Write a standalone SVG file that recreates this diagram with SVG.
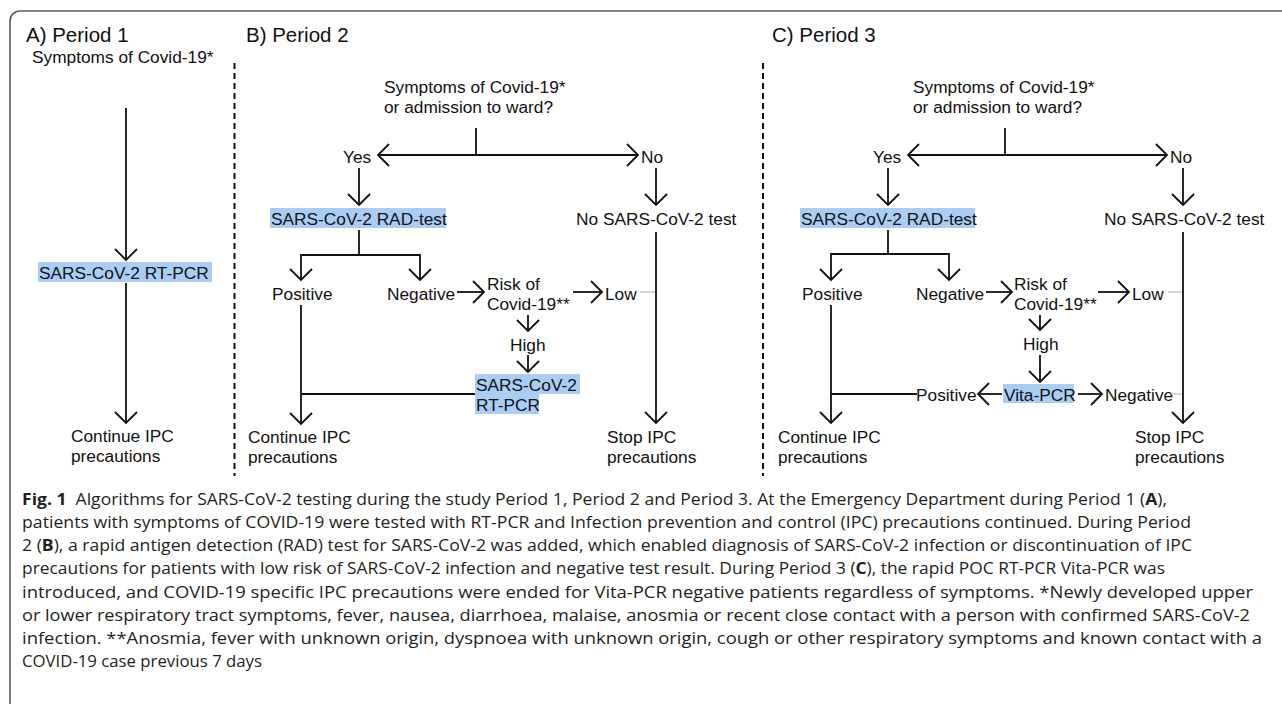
<svg xmlns="http://www.w3.org/2000/svg" width="1282" height="704" viewBox="0 0 1282 704">
<style>
.t{font-family:"Liberation Sans",Arial,sans-serif;font-size:17.3px;fill:#111}
.h{font-family:"Liberation Sans",Arial,sans-serif;font-size:20.5px;fill:#111}
.hl{fill:#a9cdf4}
.ln{fill:none;stroke:#111;stroke-width:1.8}
.ar{fill:none;stroke:#111;stroke-width:1.8;marker-end:url(#ah)}
.gr{fill:none;stroke:#c8c8c8;stroke-width:1.5}
.dash{fill:none;stroke:#111;stroke-width:2;stroke-dasharray:6 4}
.cap{font-family:"Open Sans","Noto Sans",sans-serif;font-size:16.5px;fill:#231f20}
.b{font-weight:bold}
</style>
<defs>
<marker id="ah" markerUnits="userSpaceOnUse" markerWidth="30" markerHeight="30" refX="0" refY="0" orient="auto" overflow="visible">
<path d="M-11,-11 L0,0 L-11,11" fill="none" stroke="#111" stroke-width="1.8"/>
</marker>
</defs>
<rect width="1282" height="704" fill="#fff"/>
<path d="M10,704 V21 A10,10 0 0 1 20,11 H1282" fill="none" stroke="#5a5a5a" stroke-width="1.6"/>
<g id="dividers">
<path class="dash" d="M234.5,63 V476"/>
<path class="dash" d="M763,63 V476"/>
</g>
<g id="headings">
<text class="h" x="26" y="42">A) Period 1</text>
<text class="h" x="246" y="42">B) Period 2</text>
<text class="h" x="772" y="42">C) Period 3</text>
</g>
<!-- Panel A -->
<g id="a-start"><text class="t" x="32" y="63">Symptoms of Covid-19*</text></g>
<g id="a-rtpcr"><rect class="hl" x="38" y="262" width="174" height="20"/><text class="t" x="39" y="279">SARS-CoV-2 RT-PCR</text></g>
<g id="a-continue"><text class="t" x="71" y="442">Continue IPC</text><text class="t" x="71" y="462">precautions</text></g>
<!-- Panel B -->
<g id="b-start"><text class="t" x="384" y="93">Symptoms of Covid-19*</text><text class="t" x="384" y="113">or admission to ward?</text></g>
<g id="b-yes"><text class="t" x="343" y="163">Yes</text></g>
<g id="b-no"><text class="t" x="641" y="163">No</text></g>
<g id="b-rad"><rect class="hl" x="270" y="208" width="176" height="20"/><text class="t" x="271" y="225">SARS-CoV-2 RAD-test</text></g>
<g id="b-notest"><text class="t" x="576" y="225">No SARS-CoV-2 test</text></g>
<g id="b-pos"><text class="t" x="272" y="300">Positive</text></g>
<g id="b-neg"><text class="t" x="387" y="300">Negative</text></g>
<g id="b-risk"><text class="t" x="487" y="290">Risk of</text><text class="t" x="487" y="310">Covid-19**</text></g>
<g id="b-low"><text class="t" x="605" y="300">Low</text></g>
<g id="b-high"><text class="t" x="510" y="351">High</text></g>
<g id="b-rtpcr"><rect class="hl" x="475" y="374" width="105" height="20"/><rect class="hl" x="475" y="393" width="64" height="21"/><text class="t" x="476" y="391">SARS-CoV-2</text><text class="t" x="476" y="411">RT-PCR</text></g>
<g id="b-continue"><text class="t" x="248" y="443">Continue IPC</text><text class="t" x="248" y="463">precautions</text></g>
<g id="b-stop"><text class="t" x="607" y="443">Stop IPC</text><text class="t" x="607" y="463">precautions</text></g>
<!-- Panel C -->
<g id="c-start"><text class="t" x="913" y="93">Symptoms of Covid-19*</text><text class="t" x="913" y="113">or admission to ward?</text></g>
<g id="c-yes"><text class="t" x="873" y="163">Yes</text></g>
<g id="c-no"><text class="t" x="1170" y="163">No</text></g>
<g id="c-rad"><rect class="hl" x="800" y="208" width="175" height="20"/><text class="t" x="801" y="225">SARS-CoV-2 RAD-test</text></g>
<g id="c-notest"><text class="t" x="1104" y="225">No SARS-CoV-2 test</text></g>
<g id="c-pos"><text class="t" x="802" y="300">Positive</text></g>
<g id="c-neg"><text class="t" x="916" y="300">Negative</text></g>
<g id="c-risk"><text class="t" x="1014" y="290">Risk of</text><text class="t" x="1014" y="310">Covid-19**</text></g>
<g id="c-low"><text class="t" x="1132" y="300">Low</text></g>
<g id="c-high"><text class="t" x="1023" y="350">High</text></g>
<g id="c-vita"><rect class="hl" x="1003" y="384" width="71" height="19"/><text class="t" x="1004" y="401">Vita-PCR</text></g>
<g id="c-vpos"><text class="t" x="916" y="401">Positive</text></g>
<g id="c-vneg"><text class="t" x="1105" y="401">Negative</text></g>
<g id="c-continue"><text class="t" x="778" y="443">Continue IPC</text><text class="t" x="778" y="463">precautions</text></g>
<g id="c-stop"><text class="t" x="1135" y="443">Stop IPC</text><text class="t" x="1135" y="463">precautions</text></g>
<g id="connectors">
<path class="ar" d="M126,108 V260"/>
<path class="ar" d="M126,283 V423"/>
<path class="ln" d="M476,128 V155"/>
<path class="ar" d="M476,155 H378"/>
<path class="ar" d="M476,155 H638"/>
<path class="ar" d="M359,168 V205"/>
<path class="ar" d="M656,168 V205"/>
<path class="ln" d="M359,230 V255"/>
<path class="ar" d="M359,255 H301 V280"/>
<path class="ar" d="M359,255 H420 V280"/>
<path class="ar" d="M457,292 H484"/>
<path class="ar" d="M573,292 H602"/>
<path class="gr" d="M640,292 H656"/>
<path class="ar" d="M528,315 V331"/>
<path class="ar" d="M528,355 V372"/>
<path class="ln" d="M475,394 H301"/>
<path class="ar" d="M301,305 V424"/>
<path class="ar" d="M656,232 V423"/>
<path class="ln" d="M1005,128 V155"/>
<path class="ar" d="M1005,155 H908"/>
<path class="ar" d="M1005,155 H1167"/>
<path class="ar" d="M888,168 V205"/>
<path class="ar" d="M1183,168 V205"/>
<path class="ln" d="M888,230 V254"/>
<path class="ar" d="M888,254 H831 V280"/>
<path class="ar" d="M888,254 H949 V280"/>
<path class="ar" d="M986,292 H1012"/>
<path class="ar" d="M1098,292 H1129"/>
<path class="gr" d="M1168,292 H1183"/>
<path class="ar" d="M1040,315 V330"/>
<path class="ar" d="M1040,355 V382"/>
<path class="ar" d="M1002,394 H978"/>
<path class="ln" d="M917,394 H831"/>
<path class="ar" d="M1078,394 H1102"/>
<path class="gr" d="M1171,394 H1183"/>
<path class="ar" d="M831,305 V423"/>
<path class="ar" d="M1183,232 V423"/>
</g>
<g id="caption">
<text class="cap" x="22" y="505" textLength="1145" lengthAdjust="spacingAndGlyphs" xml:space="preserve"><tspan class="b">Fig. 1</tspan>  Algorithms for SARS-CoV-2 testing during the study Period 1, Period 2 and Period 3. At the Emergency Department during Period 1 (<tspan class="b">A</tspan>),</text>
<text class="cap" x="22" y="528" textLength="1169" lengthAdjust="spacingAndGlyphs">patients with symptoms of COVID-19 were tested with RT-PCR and Infection prevention and control (IPC) precautions continued. During Period</text>
<text class="cap" x="22" y="551" textLength="1170" lengthAdjust="spacingAndGlyphs">2 (<tspan class="b">B</tspan>), a rapid antigen detection (RAD) test for SARS-CoV-2 was added, which enabled diagnosis of SARS-CoV-2 infection or discontinuation of IPC</text>
<text class="cap" x="22" y="574" textLength="1143" lengthAdjust="spacingAndGlyphs">precautions for patients with low risk of SARS-CoV-2 infection and negative test result. During Period 3 (<tspan class="b">C</tspan>), the rapid POC RT-PCR Vita-PCR was</text>
<text class="cap" x="22" y="598" textLength="1231" lengthAdjust="spacingAndGlyphs">introduced, and COVID-19 specific IPC precautions were ended for Vita-PCR negative patients regardless of symptoms. *Newly developed upper</text>
<text class="cap" x="22" y="621" textLength="1228" lengthAdjust="spacingAndGlyphs">or lower respiratory tract symptoms, fever, nausea, diarrhoea, malaise, anosmia or recent close contact with a person with confirmed SARS-CoV-2</text>
<text class="cap" x="22" y="644" textLength="1240" lengthAdjust="spacingAndGlyphs">infection. **Anosmia, fever with unknown origin, dyspnoea with unknown origin, cough or other respiratory symptoms and known contact with a</text>
<text class="cap" x="22" y="667" textLength="240" lengthAdjust="spacingAndGlyphs">COVID-19 case previous 7 days</text>
</g>
</svg>
